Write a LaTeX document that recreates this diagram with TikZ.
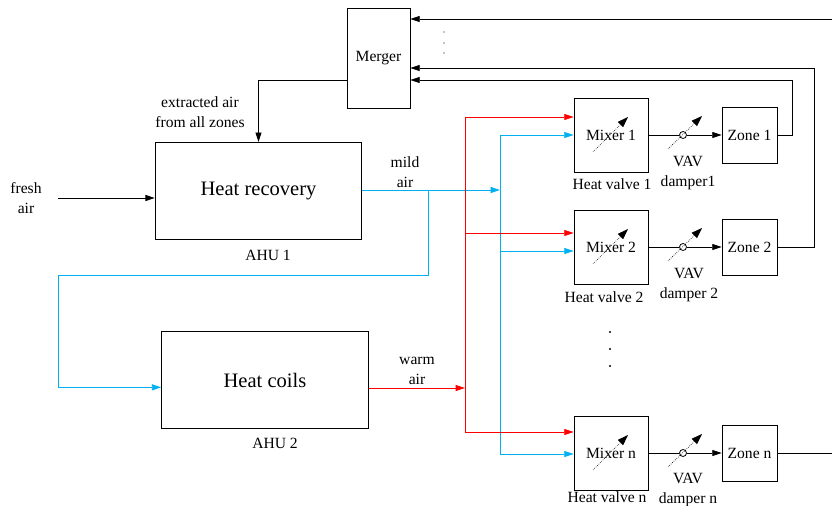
\documentclass[tikz,border=0pt]{standalone}
\usepackage{fontspec}
\setmainfont{Liberation Serif}
\usetikzlibrary{arrows.meta}

\definecolor{airblue}{RGB}{0,176,240}
\definecolor{airred}{RGB}{255,0,0}

\begin{document}
\begin{tikzpicture}[x=0.75pt, y=-0.75pt, >={Triangle[length=7pt,width=4.5pt]},
  line width=0.6pt,
  unit/.style={draw, minimum width=155pt, minimum height=73pt, font=\fontsize{15.4}{18}\selectfont},
  blk/.style={draw, font=\fontsize{11.7}{14}\selectfont},
  lbl/.style={align=center, font=\fontsize{11.7}{14.5}\selectfont},
  mixer/.style={blk, minimum size=55.5pt, inner sep=0pt},
  zone/.style={blk, minimum width=41.25pt, minimum height=42pt, inner sep=0pt},
  vav/.style={draw, circle, fill=white, minimum size=5.25pt, inner sep=0pt},
  tune/.style={densely dotted, line width=0.5pt, -{Triangle[length=8pt,width=5.5pt]}},
  mild/.style={airblue, ->},
  warm/.style={airred, ->}]
\useasboundingbox (0,0) rectangle (832,506);

% air handling units
\node[unit] (hr) at (258.5,191) {Heat recovery};
\node[lbl] (ahu1) at (268,255) {AHU 1};
\node[unit] (hc) at (265,380) {Heat coils};
\node[lbl] (ahu2) at (275,443) {AHU 2};
\node[blk, minimum width=47.25pt, minimum height=75pt] (merger) at (378.5,58) {Merger};

% inputs
\node[lbl, inner xsep=12pt] (fresh) at (26,198) {fresh\\air};
\draw[->] (fresh.east) -- (fresh.east -| hr.west);
\node[lbl] (extr) at (200,112) {extracted air\\from all zones};

% mixers, dampers and zones
\node[mixer] (mix1) at (611,135) {Mixer 1};
\node[mixer] (mix2) at (611,247) {Mixer 2};
\node[mixer] (mixn) at (611,453) {Mixer n};
\node[lbl] at (612,184) {Heat valve 1};
\node[lbl] at (604,297) {Heat valve 2};
\node[lbl] at (607,497) {Heat valve n};

\node[zone] (zone1) at (749.5,135) {Zone 1};
\node[zone] (zone2) at (749.5,247) {Zone 2};
\node[zone] (zonen) at (749.5,453) {Zone n};

\node[vav] (vav1) at (683,135) {};
\node[vav] (vav2) at (683,247) {};
\node[vav] (vavn) at (683,453) {};
\node[lbl] at (688,173) {VAV\\damper1};
\node[lbl] at (689,285) {VAV\\damper 2};
\node[lbl] at (688,490) {VAV\\damper n};

\draw (mix1) -- (vav1);
\draw[->] (vav1) -- (zone1);
\draw (mix2) -- (vav2);
\draw[->] (vav2) -- (zone2);
\draw (mixn) -- (vavn);
\draw[->] (vavn) -- (zonen);

% adjustable valves and dampers
\draw[tune] ([shift={(-18,17)}]mix1.center) -- ([shift={(17,-18)}]mix1.center);
\draw[tune] ([shift={(-18,17)}]mix2.center) -- ([shift={(17,-18)}]mix2.center);
\draw[tune] ([shift={(-18,17)}]mixn.center) -- ([shift={(17,-18)}]mixn.center);
\draw[tune] ([shift={(-15,14)}]vav1.center) -- ([shift={(19,-19)}]vav1.center);
\draw[tune] ([shift={(-15,14)}]vav2.center) -- ([shift={(19,-19)}]vav2.center);
\draw[tune] ([shift={(-15,14)}]vavn.center) -- ([shift={(19,-19)}]vavn.center);

\fill (610,332) circle (0.9pt) (610,349) circle (0.9pt) (610,366) circle (0.9pt);

% mild air
\coordinate (btop) at (500,135);
\coordinate (bmid) at (500,251);
\coordinate (bbot) at (500,454);
\coordinate (tap) at (428,190);
\coordinate (loop) at (58,275);
\node[lbl] (mildlbl) at (405,172) {mild\\air};
\draw[mild] (hr.east |- tap) -- (tap -| btop);
\draw[mild] (tap) |- (loop) |- ([yshift=-5.5pt]hc.west);
\draw[airblue] (btop) -- (bbot);
\draw[mild] (btop) -- (btop -| mix1.west);
\draw[mild] (bmid) -- (bmid -| mix2.west);
\draw[mild] (bbot) -- (bbot -| mixn.west);

% warm air
\coordinate (rtop) at (465,117);
\coordinate (rmid) at (465,233);
\coordinate (rbot) at (465,432);
\node[lbl] (warmlbl) at (417,371) {warm\\air};
\draw[warm] ([yshift=-6pt]hc.east) -- ([yshift=-6pt]hc.east -| rtop);
\draw[airred] (rtop) -- (rbot);
\draw[warm] (rtop) -- (rtop -| mix1.west);
\draw[warm] (rmid) -- (rmid -| mix2.west);
\draw[warm] (rbot) -- (rbot -| mixn.west);

% return air
\coordinate (r1) at (792,80);
\coordinate (r2) at (814,68);
\coordinate (rnin) at (832,19);
\coordinate (rnout) at (832,453);
\draw[->] (zone1) -| (r1) -- (r1 -| merger.east);
\draw[->] (zone2) -| (r2) -- (r2 -| merger.east);
\draw (zonen) -- (rnout);
\draw[->] (rnin) -- (rnin -| merger.east);
\fill (444,32) circle (0.5pt) (444,43) circle (0.5pt) (444,53) circle (0.5pt);
\draw[->] (merger.west |- r1) -| (hr.north);

\end{tikzpicture}
\end{document}
